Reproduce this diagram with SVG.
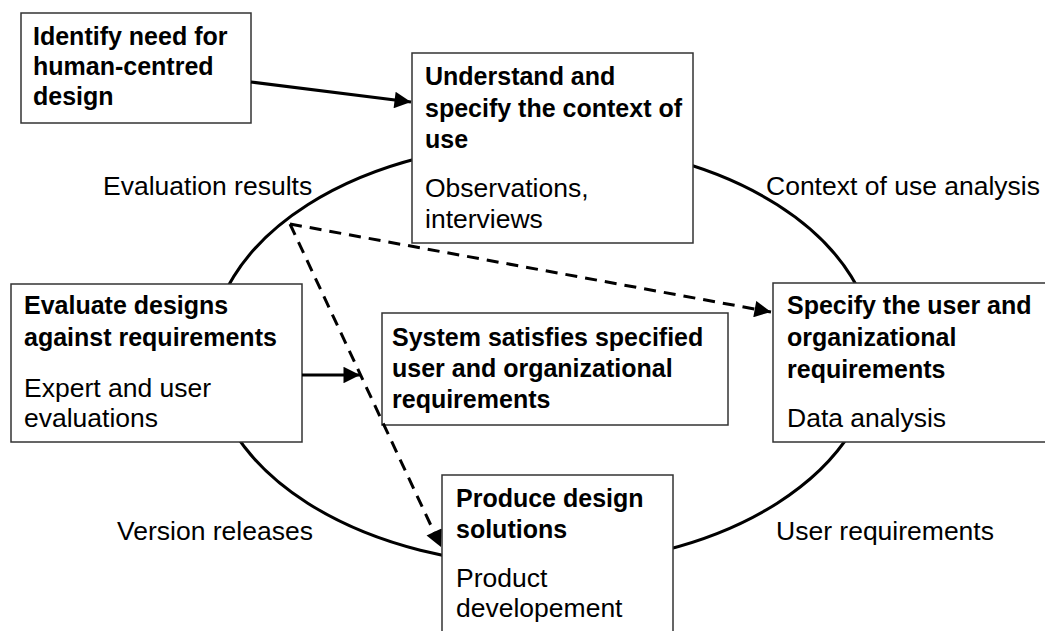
<svg xmlns="http://www.w3.org/2000/svg" width="1045" height="631" viewBox="0 0 1045 631">
<style>
.box{fill:#fff;stroke:#333;stroke-width:1.5}
.b{font-family:"Liberation Sans",Arial,sans-serif;font-weight:bold;font-size:25px;fill:#000}
.r{font-family:"Liberation Sans",Arial,sans-serif;font-size:26.5px;fill:#000}
.ln{fill:none;stroke:#000;stroke-width:3}
.dash{fill:none;stroke:#000;stroke-width:3;stroke-dasharray:12 8}
</style>
<defs>
<marker id="ah" viewBox="0 0 10 10" refX="10" refY="5" markerWidth="6.5" markerHeight="5.5" orient="auto" markerUnits="strokeWidth">
<path d="M0,0 L10,5 L0,10 z" fill="#000"/>
</marker>
</defs>
<g id="cycle">
<ellipse cx="542.5" cy="354" rx="332" ry="211" class="ln"/>
</g>
<g id="labels">
<text class="r" x="103" y="195">Evaluation results</text>
<text class="r" x="766" y="195">Context of use analysis</text>
<text class="r" x="117" y="540">Version releases</text>
<text class="r" x="776" y="540">User requirements</text>
</g>
<g id="identify">
<rect class="box" x="21" y="13" width="230" height="110"/>
<text class="b" x="33" y="45">Identify need for</text>
<text class="b" x="33" y="75">human-centred</text>
<text class="b" x="33" y="105">design</text>
</g>
<g id="understand">
<rect class="box" x="412" y="53" width="281" height="190"/>
<text class="b" x="425" y="85">Understand and</text>
<text class="b" x="425" y="116.5">specify the context of</text>
<text class="b" x="425" y="148">use</text>
<text class="r" x="425" y="196.5">Observations,</text>
<text class="r" x="425" y="228">interviews</text>
</g>
<g id="specify">
<rect class="box" x="773" y="283" width="280" height="159"/>
<text class="b" x="787" y="314">Specify the user and</text>
<text class="b" x="787" y="346">organizational</text>
<text class="b" x="787" y="378">requirements</text>
<text class="r" x="787" y="427">Data analysis</text>
</g>
<g id="evaluate">
<rect class="box" x="11" y="284" width="291" height="158"/>
<text class="b" x="24" y="314">Evaluate designs</text>
<text class="b" x="24" y="346">against requirements</text>
<text class="r" x="24" y="396.5">Expert and user</text>
<text class="r" x="24" y="427">evaluations</text>
</g>
<g id="system">
<rect class="box" x="382" y="313" width="346" height="112"/>
<text class="b" x="392" y="346">System satisfies specified</text>
<text class="b" x="392" y="377">user and organizational</text>
<text class="b" x="392" y="408">requirements</text>
</g>
<g id="produce">
<rect class="box" x="442" y="475" width="231" height="170"/>
<text class="b" x="456" y="507">Produce design</text>
<text class="b" x="456" y="538">solutions</text>
<text class="r" x="456" y="587">Product</text>
<text class="r" x="456" y="617">developement</text>
</g>
<g id="connectors">
<line class="ln" x1="251" y1="82" x2="411" y2="102" marker-end="url(#ah)"/>
<line class="ln" x1="302" y1="375" x2="360" y2="375" marker-end="url(#ah)"/>
<line class="dash" x1="290" y1="224" x2="771" y2="312" marker-end="url(#ah)"/>
<line class="dash" x1="290" y1="224" x2="441" y2="547" marker-end="url(#ah)"/>
</g>
</svg>
